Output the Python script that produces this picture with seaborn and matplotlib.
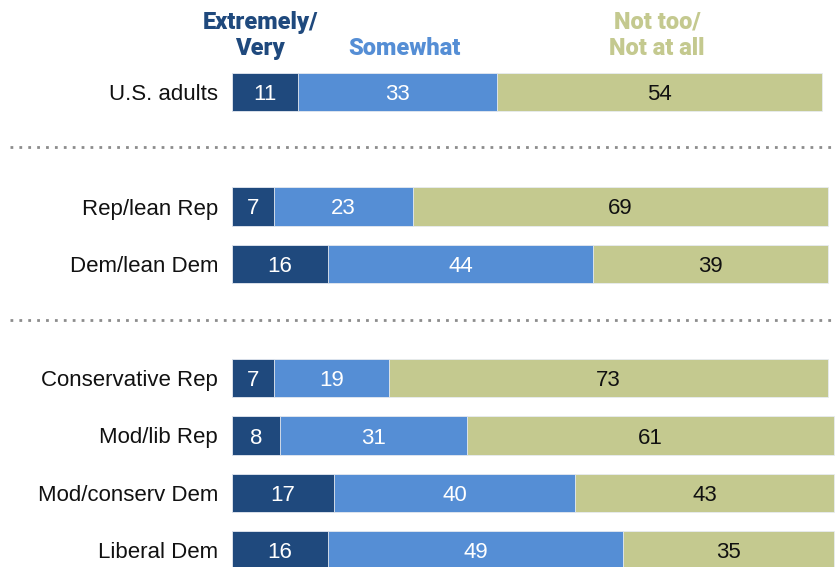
import matplotlib
matplotlib.use("Agg")
import matplotlib.pyplot as plt
import seaborn as sns
import pandas as pd

groups = ["U.S. adults", "Rep/lean Rep", "Dem/lean Dem", "Conservative Rep",
          "Mod/lib Rep", "Mod/conserv Dem", "Liberal Dem"]
row_pos = [0, 2, 3, 5, 6, 7, 8]
very = [11, 7, 16, 7, 8, 17, 16]
somewhat = [33, 23, 44, 19, 31, 40, 49]
not_too = [54, 69, 39, 73, 61, 43, 35]
series_names = [["Extremely/", "Very"], ["Somewhat"], ["Not too/", "Not at all"]]
divider_pos = [0.96, 3.98]

c_dark = "#1f497d"
c_mid = "#558ed5"
c_olive = "#c4c98f"

sns.set_theme(style="white")
plt.rcParams["font.family"] = ["Liberation Sans", "DejaVu Sans"]

df = pd.DataFrame({"group": groups, "pos": row_pos, "very": very,
                   "somewhat": somewhat, "not_too": not_too})
df["cum1"] = df["very"]
df["cum2"] = df["very"] + df["somewhat"]
df["cum3"] = df["cum2"] + df["not_too"]

fig = plt.figure(figsize=(8.35, 5.67), dpi=100)
px_per_unit = 6.02
row_h = 57.25
ax_left = 232 / 835
ax = fig.add_axes([ax_left, 0, 1 - ax_left, 1])

bar_h = 0.664
for col, color in [("cum3", c_olive), ("cum2", c_mid), ("cum1", c_dark)]:
    sns.barplot(data=df, x=col, y="pos", orient="h", native_scale=True,
                color=color, width=bar_h, edgecolor="#e8ecf2", linewidth=0.6,
                saturation=1, ax=ax)

ax.set_xlim(0, 603 / px_per_unit)
ax.set_ylim(8 + 17 / row_h, -92 / row_h)
ax.axis("off")

fs = 16
# segment value labels and row labels
for _, r in df.iterrows():
    ax.text(r["very"] / 2, r["pos"], str(r["very"]), ha="center",
            va="center_baseline", color="white", fontsize=fs)
    ax.text(r["cum1"] + r["somewhat"] / 2, r["pos"], str(r["somewhat"]),
            ha="center", va="center_baseline", color="white", fontsize=fs)
    ax.text(r["cum2"] + r["not_too"] / 2, r["pos"], str(r["not_too"]),
            ha="center", va="center_baseline", color="#111111", fontsize=fs)
    ax.text(-14 / px_per_unit, r["pos"], r["group"], ha="right",
            va="center_baseline", color="#111111", fontsize=fs)

# dotted dividers between groups
x0 = -222 / px_per_unit
for y in divider_pos:
    ax.plot([x0, 603 / px_per_unit], [y, y], linestyle=(0, (1, 2.2)),
            color="#8c8c8c", linewidth=2, clip_on=False)


def py_to_y(py):
    return (py - 92) / row_h


# column headers
hdr_style = dict(ha="center", va="center_baseline", fontsize=17,
                 fontweight="heavy", family=["Roboto", "DejaVu Sans"])
hdr_specs = [(28, c_dark, [20, 46]), (172, c_mid, [46]), (425, c_olive, [20, 46])]
for (xpx, color, ys), lines in zip(hdr_specs, series_names):
    for line, ypx in zip(lines, ys):
        ax.text(xpx / px_per_unit, py_to_y(ypx), line, color=color, **hdr_style)

fig.savefig("out.png", dpi=100)
